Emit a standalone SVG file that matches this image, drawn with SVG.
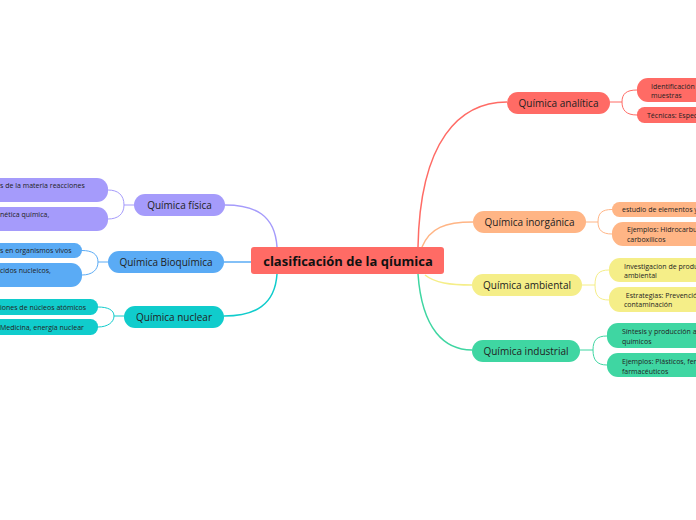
<svg xmlns="http://www.w3.org/2000/svg" width="696" height="520" viewBox="0 0 696 520">
<style>
.lbl{font-family:"Open Sans","Noto Sans","Liberation Sans",sans-serif;font-size:10px;fill:#222;text-anchor:middle}
.sm{font-family:"Open Sans","Noto Sans","Liberation Sans",sans-serif;font-size:7px;fill:#222}
.c{fill:none;stroke-width:1.5}
.cs{fill:none;stroke-width:1}
</style>
<rect width="696" height="520" fill="#ffffff"/>
<g id="connectors">
<path class="c" stroke="#ff6b65" d="M418,247 C420,140 460,102 507,102"/>
<path class="c" stroke="#ffb585" d="M422,247 C430,228 445,222 473,222"/>
<path class="c" stroke="#f5ee88" d="M425,275 C435,283 450,285 472,285"/>
<path class="c" stroke="#3fd6a2" d="M418,274 C422,330 445,350 472,350"/>
<path class="c" stroke="#a59bfb" d="M277,247 C275,215 255,205 225,205"/>
<path class="c" stroke="#5aabf5" d="M251,262 H224"/>
<path class="c" stroke="#10cccc" d="M277,274 C275,305 255,316 224,316"/>
<path class="cs" stroke="#ff6b65" d="M610,102 H622 M637,90 C626,90 622,94 622,102 C622,110 626,115 637,115"/>
<path class="cs" stroke="#ffb585" d="M586,222 H598 M612,209.5 C602,209.5 598,213 598,222 C598,230 602,234 612,234"/>
<path class="cs" stroke="#f5ee88" d="M582,285 H595 M609,270 C599,270 595,274 595,285 C595,296 599,300 609,300"/>
<path class="cs" stroke="#3fd6a2" d="M580,350 H593 M607,336 C597,336 593,340 593,350 C593,360 597,365 607,365"/>
<path class="cs" stroke="#a59bfb" d="M134,205 H124 M108,190 C118,190 124,195 124,205 C124,214 118,219 108,219"/>
<path class="cs" stroke="#5aabf5" d="M108,262 H98 M82,250.5 C92,250.5 98,254 98,262 C98,270 92,275 82,275"/>
<path class="cs" stroke="#10cccc" d="M124,316 H114 M98,307 C108,307 114,310 114,316 C114,322 108,327 98,327"/>
</g>
<g id="central">
<rect x="251" y="247" width="193" height="27" rx="3" fill="#ff6b65"/>
<text x="348" y="265.5" style="font-family:'Open Sans','Noto Sans','Liberation Sans',sans-serif;font-size:13px;font-weight:bold;fill:#111;text-anchor:middle">clasificación de la qíumica</text>
</g>
<g id="analitica">
<rect x="507" y="92" width="103" height="22" rx="11" fill="#ff6b65"/>
<text class="lbl" x="558.5" y="106.5">Química analítica</text>
</g>
<g id="analitica-1">
<rect x="637" y="78" width="90" height="24" rx="11" fill="#ff6b65"/>
<text class="sm" x="651" y="88.5">Identificación de</text>
<text class="sm" x="651" y="97.5">muestras</text>
</g>
<g id="analitica-2">
<rect x="637" y="107" width="90" height="16" rx="7.5" fill="#ff6b65"/>
<text class="sm" x="647" y="117.5">Técnicas: Espectroscopía</text>
</g>
<g id="inorganica">
<rect x="473" y="211" width="113" height="22" rx="11" fill="#ffb585"/>
<text class="lbl" x="529.5" y="225.5">Química inorgánica</text>
</g>
<g id="inorganica-1">
<rect x="612" y="202" width="100" height="15" rx="7.5" fill="#ffb585"/>
<text class="sm" x="622" y="212">estudio de elementos y</text>
</g>
<g id="inorganica-2">
<rect x="612" y="222" width="100" height="24" rx="11" fill="#ffb585"/>
<text class="sm" x="627" y="231.5">Ejemplos: Hidrocarburos</text>
<text class="sm" x="627" y="241.5">carboxílicos</text>
</g>
<g id="ambiental">
<rect x="472" y="274" width="110" height="22" rx="11" fill="#f5ee88"/>
<text class="lbl" x="527" y="288.5">Química ambiental</text>
</g>
<g id="ambiental-1">
<rect x="609" y="258" width="100" height="24" rx="11" fill="#f5ee88"/>
<text class="sm" x="624" y="268.5">Investigacion de productos</text>
<text class="sm" x="624" y="277.5">ambiental</text>
</g>
<g id="ambiental-2">
<rect x="609" y="287" width="100" height="25" rx="11" fill="#f5ee88"/>
<text class="sm" x="624" y="298" xml:space="preserve"> Estrategias: Prevención</text>
<text class="sm" x="624" y="307">contaminación</text>
</g>
<g id="industrial">
<rect x="472" y="340" width="108" height="22" rx="11" fill="#3fd6a2"/>
<text class="lbl" x="526" y="354.5">Química industrial</text>
</g>
<g id="industrial-1">
<rect x="607" y="323" width="100" height="25" rx="11" fill="#3fd6a2"/>
<text class="sm" x="622" y="334">Síntesis y producción a</text>
<text class="sm" x="622" y="344">químicos</text>
</g>
<g id="industrial-2">
<rect x="607" y="353" width="100" height="24" rx="11" fill="#3fd6a2"/>
<text class="sm" x="622" y="363.5">Ejemplos: Plásticos, fertilizantes</text>
<text class="sm" x="622" y="373.5">farmacéuticos</text>
</g>
<g id="fisica">
<rect x="134" y="194" width="91" height="22" rx="11" fill="#a59bfb"/>
<text class="lbl" x="179.5" y="208.5">Química física</text>
</g>
<g id="fisica-1">
<rect x="-20" y="178" width="128" height="24" rx="11" fill="#a59bfb"/>
<text class="sm" x="0" y="188">s de la materia reacciones</text>
</g>
<g id="fisica-2">
<rect x="-20" y="207" width="128" height="24" rx="11" fill="#a59bfb"/>
<text class="sm" x="0" y="217">nética química,</text>
</g>
<g id="bioquimica">
<rect x="108" y="251" width="116" height="22" rx="11" fill="#5aabf5"/>
<text class="lbl" x="166" y="265.5">Química Bioquímica</text>
</g>
<g id="bioquimica-1">
<rect x="-20" y="243" width="102" height="15" rx="7.5" fill="#5aabf5"/>
<text class="sm" x="0" y="253">s en organismos vivos</text>
</g>
<g id="bioquimica-2">
<rect x="-20" y="263" width="102" height="24" rx="11" fill="#5aabf5"/>
<text class="sm" x="0" y="273">cidos nucleicos,</text>
</g>
<g id="nuclear">
<rect x="124" y="306" width="100" height="22" rx="11" fill="#10cccc"/>
<text class="lbl" x="174" y="320.5">Química nuclear</text>
</g>
<g id="nuclear-1">
<rect x="-20" y="299" width="118" height="16" rx="7.5" fill="#10cccc"/>
<text class="sm" x="0" y="309.5">iones de núcleos atómicos</text>
</g>
<g id="nuclear-2">
<rect x="-20" y="319" width="118" height="16" rx="7.5" fill="#10cccc"/>
<text class="sm" x="0" y="329.5">Medicina, energía nuclear</text>
</g>
</svg>
